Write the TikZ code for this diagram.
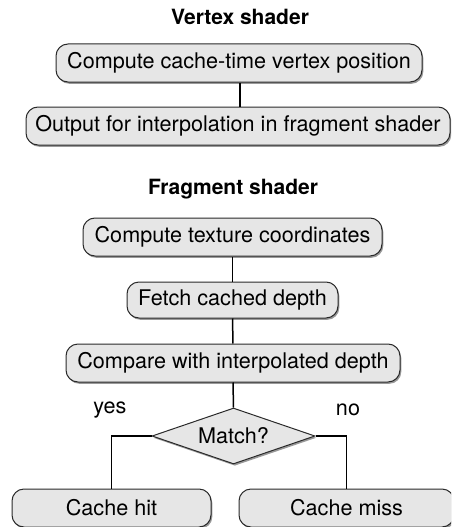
\documentclass[tikz,border=0pt]{standalone}
\usepackage{fontspec}
\setmainfont{TeX Gyre Heros}
\usetikzlibrary{shapes.geometric,shadows}
\definecolor{boxfill}{HTML}{E6E6E6}
\definecolor{boxline}{HTML}{2A2A2A}
\begin{document}
\begin{tikzpicture}[x=1pt,y=-1pt,
  font=\fontsize{21.6}{25}\selectfont,
  box/.style={draw=boxline, line width=1pt, fill=boxfill, rounded corners=12pt,
    inner sep=0pt, minimum height=38pt,
    drop shadow={shadow xshift=1.3pt, shadow yshift=-1.8pt, fill=black, opacity=0.4}},
  decision/.style={draw=boxline, line width=1pt, fill=boxfill, diamond, aspect=2.9,
    inner sep=0pt, minimum width=163pt, minimum height=56pt,
    drop shadow={shadow xshift=1.3pt, shadow yshift=-1.8pt, fill=black, opacity=0.4}},
  heading/.style={font=\fontsize{21}{25}\selectfont\bfseries, inner sep=0pt},
  lbl/.style={inner sep=0pt},
  conn/.style={draw=black, line width=1.5pt}]
\useasboundingbox (0,0) rectangle (451,527);
\clip (0,0) rectangle (451,527);
\node[heading] (t1) at (240,17) {Vertex shader};
\node[box, minimum width=366pt] (b1) at (239,63) {Compute cache-time vertex position};
\node[box, minimum width=424pt] (b2) at (238,126) {Output for interpolation in fragment shader};
\node[heading] (t2) at (233,189) {Fragment shader};
\node[box, minimum width=299pt] (b3) at (232.5,237) {Compute texture coordinates};
\node[box, minimum width=211pt, minimum height=36pt] (b4) at (232.5,300) {Fetch cached depth};
\node[box, minimum width=334pt] (b5) at (233,363) {Compare with interpolated depth};
\node[decision] (d) at (233.5,436) {Match?};
\node[lbl] (yes) at (110,410) {yes};
\node[lbl] (no) at (348,410) {no};
\node[box, minimum width=199pt] (hit) at (111.5,508) {Cache hit};
\node[box, minimum width=215pt] (miss) at (346.5,508) {Cache miss};
\draw[conn] (b1.south -| 240,0) -- (b2.north -| 240,0);
\draw[conn] (b3.south) -- (b4.north);
\draw[conn] (b4.south) -- (b5.north);
\draw[conn] (b5.south) -- (d.north);
\draw[conn] (d.west) -| (hit.north);
\draw[conn] (d.east) -| (miss.north);
\end{tikzpicture}
\end{document}
